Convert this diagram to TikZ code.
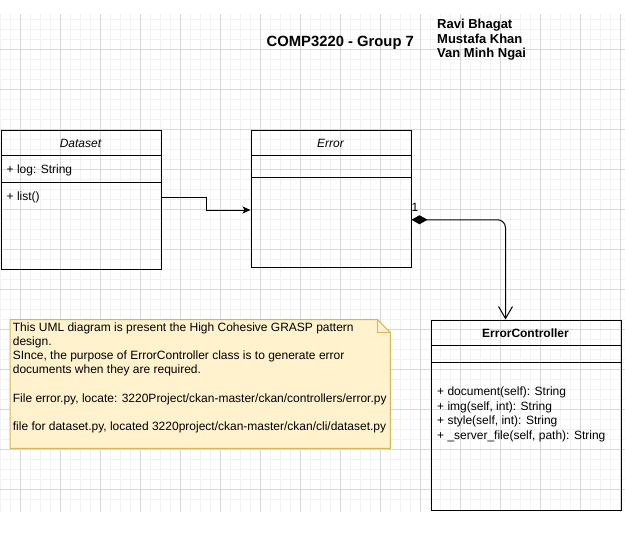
\documentclass[tikz,border=0pt]{standalone}
\usepackage{fontspec}
\setmainfont{Liberation Sans}
\usetikzlibrary{arrows.meta}
\definecolor{notefill}{HTML}{FFF2CC}
\definecolor{notedraw}{HTML}{D6B656}
\definecolor{gridmajor}{HTML}{D8D8D8}
\definecolor{gridminor}{HTML}{F2F2F2}
\tikzset{
  classbox/.style={draw=black, line width=1pt, inner sep=0pt, anchor=north west},
  sep/.style={line width=1pt},
  txt/.style={inner sep=0pt, anchor=base west, font=\fontsize{12}{14}\selectfont},
  ctxt/.style={inner sep=0pt, anchor=base, font=\fontsize{12}{14}\selectfont},
  hdr/.style={inner sep=0pt, anchor=base west, font=\fontsize{13}{15}\selectfont\bfseries},
  link/.style={line width=1pt},
}
\begin{document}
\begin{tikzpicture}[x=1pt,y=-1pt]
\useasboundingbox (0,0) rectangle (625,541);
% grid
\foreach \i in {0,...,62} {\draw[gridminor, line width=0.6pt] (\i*10+0.5,14) -- (\i*10+0.5,512);}
\foreach \j in {2,...,50} {\draw[gridminor, line width=0.6pt] (0,\j*10-0.5) -- (625,\j*10-0.5);}
\foreach \i in {0,...,15} {\draw[gridmajor, line width=0.7pt] (20.5+\i*40,14) -- (20.5+\i*40,512);}
\foreach \j in {1,...,12} {\draw[gridmajor, line width=0.7pt] (0,9.5+\j*40) -- (625,9.5+\j*40);}

% header
\node[inner sep=0pt, anchor=base west, font=\fontsize{14.8}{16}\selectfont\bfseries] (title) at (266.5,46) {COMP3220 - Group 7};
\node[hdr] (n1) at (437,28.8) {Ravi Bhagat};
\node[hdr] (n2) at (437,43.2) {Mustafa Khan};
\node[hdr] (n3) at (437,57.6) {Van Minh Ngai};

% Dataset
\node[classbox, minimum width=160pt, minimum height=139.5pt] (ds) at (0.5,129.5) {};
\draw[sep] (0.5,155.5) -- (160.5,155.5);
\draw[sep] (0.5,182) -- (160.5,182);
\node[ctxt, font=\fontsize{12}{14}\selectfont\itshape] (dst) at (80.5,147) {Dataset};
\node[txt] (dsa) at (6.5,173.3) {+ log: String};
\node[txt] (dsm) at (6.5,200.5) {+ list()};

% Error
\node[classbox, minimum width=160pt, minimum height=137.5pt] (err) at (250.5,129.5) {};
\draw[sep] (250.5,155.5) -- (410.5,155.5);
\draw[sep] (250.5,177) -- (410.5,177);
\node[ctxt, font=\fontsize{12}{14}\selectfont\itshape] (errt) at (330.5,147) {Error};

% ErrorController
\node[classbox, minimum width=190pt, minimum height=190pt] (ec) at (430.5,319.5) {};
\draw[sep] (430.5,345.5) -- (620.5,345.5);
\draw[sep] (430.5,362) -- (620.5,362);
\node[ctxt, font=\fontsize{12}{14}\selectfont\bfseries] (ect) at (525.5,337.5) {ErrorController};
\node[txt] (m1) at (437,395.8) {+ document(self): String};
\node[txt] (m2) at (437,410.2) {+ img(self, int): String};
\node[txt] (m3) at (437,424.6) {+ style(self, int): String};
\node[txt] (m4) at (437,439) {+ \_server\_file(self, path): String};

% note
\node[inner sep=0pt, minimum width=380pt, minimum height=128.5pt, anchor=north west] (note) at (10,319.5) {};
\draw[fill=notefill, draw=notedraw, line width=1pt]
  (note.north west) -- ([xshift=-13pt]note.north east) -- ([yshift=-13pt]note.north east)
  -- (note.south east) -- (note.south west) -- cycle;
\draw[draw=notedraw, line width=1pt] ([xshift=-13pt]note.north east) -- ([xshift=-13pt,yshift=-13pt]note.north east) -- ([yshift=-13pt]note.north east);
\node[txt] (l1) at (12.7,331) {This UML diagram is present the High Cohesive GRASP pattern};
\node[txt] (l2) at (12.7,345.2) {design.};
\node[txt] (l3) at (12.7,359.4) {SInce, the purpose of ErrorController class is to generate error};
\node[txt] (l4) at (12.7,373.6) {documents when they are required.};
\node[txt] (l5) at (12.7,402) {File error.py, locate: 3220Project/ckan-master/ckan/controllers/error.py};
\node[txt] (l6) at (12.7,430.4) {file for dataset.py, located 3220project/ckan-master/ckan/cli/dataset.py};

% connectors
\draw[link, -{Stealth[length=8pt,width=7pt,inset=2pt]}]
  ([yshift=2.75pt]ds.east) -- ++(44.5,0) |- ([yshift=-11.25pt]err.west);
\draw[link, rounded corners=8pt, {Diamond[length=16pt,width=9pt]}-{Straight Barb[length=12pt,width=14pt]}]
  ([yshift=-21pt]err.east) -| ([xshift=-20.5pt]ec.north);
\node[ctxt] (mult) at (415,211) {1};
\end{tikzpicture}
\end{document}
